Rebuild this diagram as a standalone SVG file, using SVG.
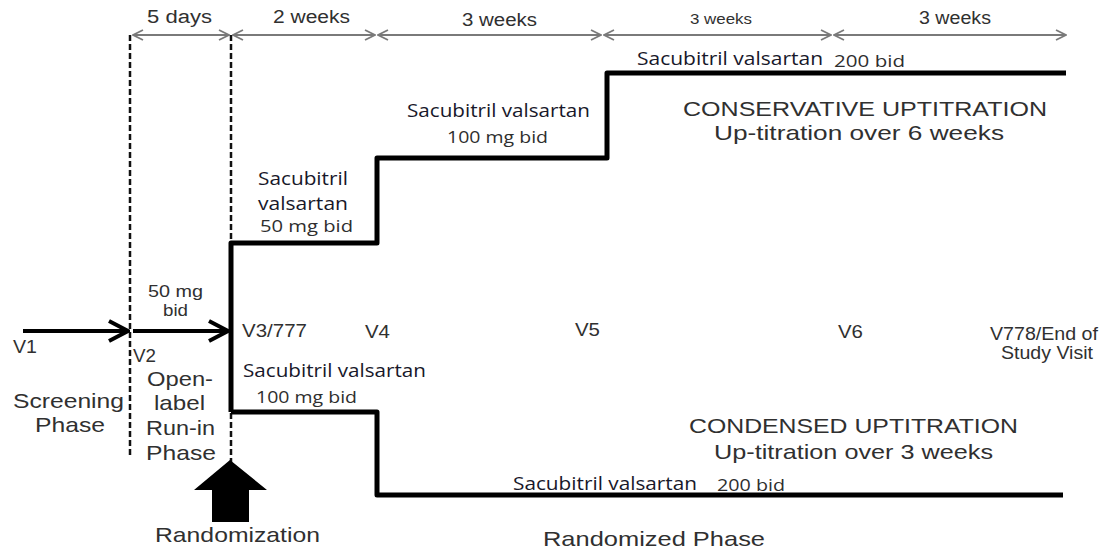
<svg xmlns="http://www.w3.org/2000/svg" width="1118" height="552" viewBox="0 0 1118 552">
  <style>
    .lbl { font-family: "Liberation Sans", Arial, sans-serif; fill: #303030; }
    .drug { font-family: "Open Sans", "Noto Sans", sans-serif; fill: #18182a; }
    .dose { font-family: "Open Sans", "Noto Sans", sans-serif; fill: #2e2e2e; }
    .dim { stroke: #7a7a7a; stroke-width: 2; fill: none; }
    .dash { stroke: #111; stroke-width: 2.5; stroke-dasharray: 6 3; fill: none; }
    .step { stroke: #000; stroke-width: 5; fill: none; stroke-linejoin: round; }
    .run { stroke: #000; stroke-width: 4; fill: none; }
  </style>
  <defs>
    <marker id="chev" viewBox="0 0 12 12" refX="11" refY="6" markerWidth="12" markerHeight="12" markerUnits="userSpaceOnUse" orient="auto-start-reverse">
      <path d="M1,1 L11,6 L1,11" fill="none" stroke="#7a7a7a" stroke-width="1.8"/>
    </marker>
    <marker id="blackChev" viewBox="0 0 24 24" refX="22" refY="12" markerWidth="24" markerHeight="24" markerUnits="userSpaceOnUse" orient="auto">
      <path d="M3,2 L22,12 L3,22" fill="none" stroke="#000" stroke-width="4"/>
    </marker>
  </defs>

  <!-- time-span dimension lines -->
  <g id="timeline">
    <line class="dim" x1="133" y1="35" x2="229" y2="35" marker-start="url(#chev)" marker-end="url(#chev)"/>
    <line class="dim" x1="233" y1="35" x2="375" y2="35" marker-start="url(#chev)" marker-end="url(#chev)"/>
    <line class="dim" x1="378" y1="35" x2="601" y2="35" marker-start="url(#chev)" marker-end="url(#chev)"/>
    <line class="dim" x1="604" y1="35" x2="831" y2="35" marker-start="url(#chev)" marker-end="url(#chev)"/>
    <line class="dim" x1="834" y1="35" x2="1066" y2="35" marker-start="url(#chev)" marker-end="url(#chev)"/>
    <text class="lbl" x="147" y="23" font-size="18" textLength="65" lengthAdjust="spacingAndGlyphs">5 days</text>
    <text class="lbl" x="273" y="23" font-size="18" textLength="77" lengthAdjust="spacingAndGlyphs">2 weeks</text>
    <text class="lbl" x="462" y="26" font-size="18" textLength="75" lengthAdjust="spacingAndGlyphs">3 weeks</text>
    <text class="lbl" x="690" y="24" font-size="15" textLength="62" lengthAdjust="spacingAndGlyphs">3 weeks</text>
    <text class="lbl" x="919" y="24" font-size="18" textLength="72" lengthAdjust="spacingAndGlyphs">3 weeks</text>
  </g>

  <!-- phase boundaries -->
  <g id="boundaries">
    <line class="dash" x1="130" y1="35" x2="130" y2="455"/>
    <line class="dash" x1="231" y1="35" x2="231" y2="462"/>
  </g>

  <!-- dosing pathways -->
  <g id="connectors">
    <line class="run" x1="23" y1="331" x2="128" y2="331" marker-end="url(#blackChev)"/>
    <line class="run" x1="133" y1="331" x2="228" y2="331" marker-end="url(#blackChev)"/>
    <polyline class="step" points="231,412 231,243 377,243 377,158 607,158 607,73 1066,73"/>
    <polyline class="step" points="231,412 377,412 377,495 1063,495"/>
  </g>

  <!-- randomization marker -->
  <g id="randomization">
    <polygon points="230,460 267,490 249,490 249,522 212,522 212,490 194,490" fill="#000"/>
    <text class="lbl" x="155" y="542" font-size="21" textLength="165" lengthAdjust="spacingAndGlyphs">Randomization</text>
  </g>

  <!-- visits -->
  <g id="visits">
    <text class="lbl" x="13" y="353" font-size="18" textLength="24" lengthAdjust="spacingAndGlyphs">V1</text>
    <text class="lbl" x="133" y="362" font-size="18" textLength="23" lengthAdjust="spacingAndGlyphs">V2</text>
    <text class="lbl" x="242" y="337" font-size="18" textLength="65" lengthAdjust="spacingAndGlyphs">V3/777</text>
    <text class="lbl" x="365" y="338" font-size="18" textLength="25" lengthAdjust="spacingAndGlyphs">V4</text>
    <text class="lbl" x="575" y="336" font-size="18" textLength="25" lengthAdjust="spacingAndGlyphs">V5</text>
    <text class="lbl" x="838" y="338" font-size="18" textLength="25" lengthAdjust="spacingAndGlyphs">V6</text>
    <text class="lbl" x="990" y="340" font-size="18" textLength="108" lengthAdjust="spacingAndGlyphs">V778/End of</text>
    <text class="lbl" x="1001" y="359" font-size="18" textLength="92" lengthAdjust="spacingAndGlyphs">Study Visit</text>
  </g>

  <!-- phases -->
  <g id="screening">
    <text class="lbl" x="13" y="408" font-size="21" textLength="111" lengthAdjust="spacingAndGlyphs">Screening</text>
    <text class="lbl" x="35" y="432" font-size="21" textLength="70" lengthAdjust="spacingAndGlyphs">Phase</text>
  </g>
  <g id="run-in">
    <text class="lbl" x="148" y="297" font-size="17" textLength="55" lengthAdjust="spacingAndGlyphs">50 mg</text>
    <text class="lbl" x="163" y="316" font-size="17" textLength="25" lengthAdjust="spacingAndGlyphs">bid</text>
    <text class="lbl" x="147" y="386" font-size="21" textLength="66" lengthAdjust="spacingAndGlyphs">Open-</text>
    <text class="lbl" x="154" y="410" font-size="21" textLength="51" lengthAdjust="spacingAndGlyphs">label</text>
    <text class="lbl" x="146" y="435" font-size="21" textLength="69" lengthAdjust="spacingAndGlyphs">Run-in</text>
    <text class="lbl" x="146" y="460" font-size="21" textLength="70" lengthAdjust="spacingAndGlyphs">Phase</text>
  </g>
  <g id="randomized-phase">
    <text class="lbl" x="543" y="546" font-size="21" textLength="222" lengthAdjust="spacingAndGlyphs">Randomized Phase</text>
  </g>

  <!-- conservative arm -->
  <g id="conservative">
    <text class="drug" x="258" y="185" font-size="18" textLength="90" lengthAdjust="spacingAndGlyphs">Sacubitril</text>
    <text class="drug" x="258" y="210" font-size="18" textLength="90" lengthAdjust="spacingAndGlyphs">valsartan</text>
    <text class="dose" x="260" y="232" font-size="17" textLength="93" lengthAdjust="spacingAndGlyphs">50 mg bid</text>
    <text class="drug" x="407" y="117" font-size="18" textLength="183" lengthAdjust="spacingAndGlyphs">Sacubitril valsartan</text>
    <text class="dose" x="447" y="143" font-size="17" textLength="101" lengthAdjust="spacingAndGlyphs">100 mg bid</text>
    <text class="drug" x="637" y="65" font-size="18" textLength="186" lengthAdjust="spacingAndGlyphs">Sacubitril valsartan</text>
    <text class="dose" x="834" y="67" font-size="17" textLength="71" lengthAdjust="spacingAndGlyphs">200  bid</text>
    <text class="lbl" x="683" y="116" font-size="21" textLength="364" lengthAdjust="spacingAndGlyphs">CONSERVATIVE UPTITRATION</text>
    <text class="lbl" x="714" y="140" font-size="21" textLength="290" lengthAdjust="spacingAndGlyphs">Up-titration over 6 weeks</text>
  </g>

  <!-- condensed arm -->
  <g id="condensed">
    <text class="drug" x="243" y="377" font-size="18" textLength="183" lengthAdjust="spacingAndGlyphs">Sacubitril valsartan</text>
    <text class="dose" x="256" y="403" font-size="17" textLength="101" lengthAdjust="spacingAndGlyphs">100 mg bid</text>
    <text class="drug" x="513" y="490" font-size="18" textLength="184" lengthAdjust="spacingAndGlyphs">Sacubitril valsartan</text>
    <text class="dose" x="717" y="491" font-size="17" textLength="68" lengthAdjust="spacingAndGlyphs">200  bid</text>
    <text class="lbl" x="689" y="433" font-size="21" textLength="329" lengthAdjust="spacingAndGlyphs">CONDENSED UPTITRATION</text>
    <text class="lbl" x="714" y="459" font-size="21" textLength="279" lengthAdjust="spacingAndGlyphs">Up-titration over 3 weeks</text>
  </g>
</svg>
